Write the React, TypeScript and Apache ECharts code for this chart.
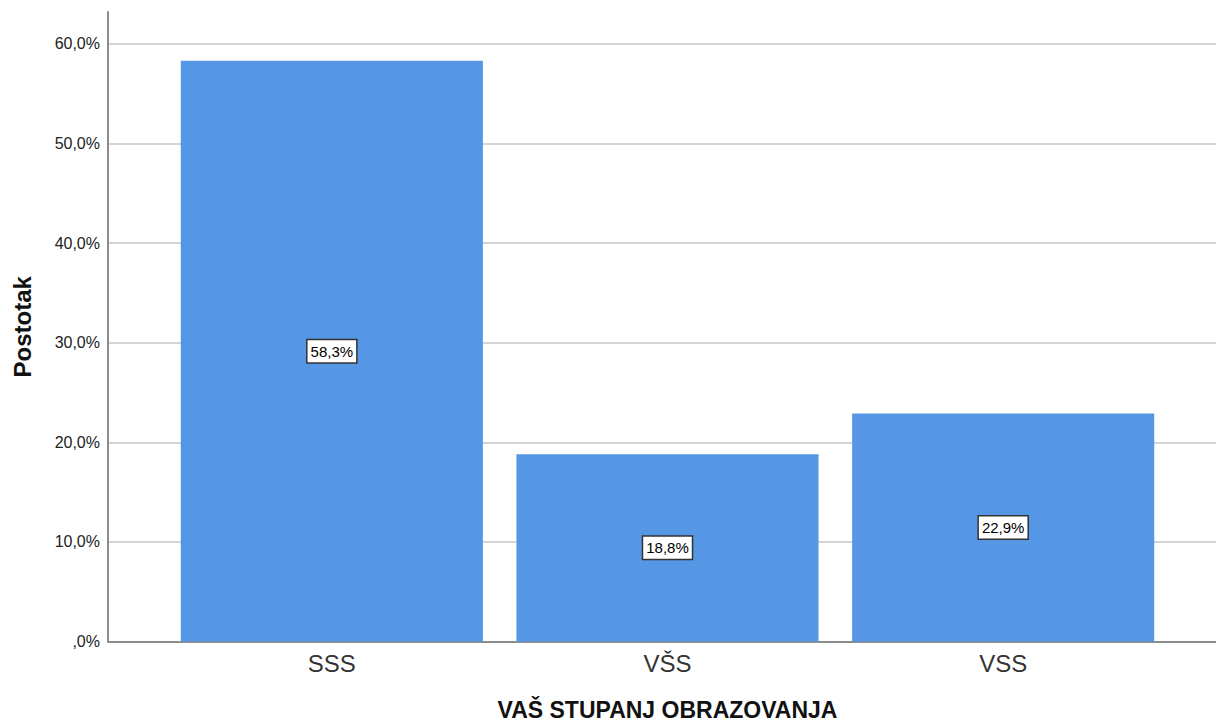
import React, { useEffect, useRef } from "react";
import * as echarts from "echarts";

const categories = ["SSS", "VŠS", "VSS"];
const percentages = [58.3, 18.8, 22.9];
const yTicks = [0, 10, 20, 30, 40, 50, 60];

const fmtPct = (v: number) => (v === 0 ? ",0%" : v.toFixed(1).replace(".", ",") + "%");

export default function App() {
  const ref = useRef<HTMLDivElement>(null);
  useEffect(() => {
    if (!ref.current) return;
    const chart = echarts.init(ref.current, null, { renderer: "svg" });
    const font = "Arial, 'Liberation Sans', sans-serif";
    chart.setOption({
      animation: false,
      backgroundColor: "#ffffff",
      textStyle: { fontFamily: font },
      grid: [
        { left: 108, right: 0, top: 12, bottom: 80.5, outerBoundsMode: "none", containLabel: false },
        { left: 164, right: 45, top: 12, bottom: 80.5, outerBoundsMode: "none", containLabel: false },
      ],
      xAxis: [
        {
          gridIndex: 0,
          type: "value",
          min: 0,
          max: 1,
          axisLine: { show: true, onZero: false, lineStyle: { color: "#8c8c8c", width: 2 } },
          axisTick: { show: false },
          axisLabel: { show: false },
          splitLine: { show: false },
        },
        {
          gridIndex: 1,
          type: "category",
          data: categories,
          axisLine: { show: false },
          axisTick: { show: false },
          axisLabel: { fontSize: 24, color: "#333", margin: 10, fontFamily: font },
          name: "VAŠ STUPANJ OBRAZOVANJA",
          nameLocation: "middle",
          nameGap: 58,
          nameTextStyle: { fontSize: 23, lineHeight: 21, fontWeight: "bold", color: "#111", fontFamily: font },
        },
      ],
      yAxis: [
        {
          gridIndex: 0,
          type: "value",
          min: 0,
          max: 63.2,
          interval: 10,
          axisLine: { show: true, lineStyle: { color: "#8c8c8c", width: 2 } },
          axisTick: { show: false },
          axisLabel: {
            showMaxLabel: false,
            fontSize: 16,
            color: "#222",
            margin: 8,
            fontFamily: font,
            formatter: (v: number) => (yTicks.includes(Math.round(v * 10) / 10) ? fmtPct(v) : ""),
          },
          splitLine: { show: true, showMaxLine: false, lineStyle: { color: "#d4d4d4", width: 2 } },
          name: "Postotak",
          nameLocation: "middle",
          nameGap: 74,
          nameTextStyle: { fontSize: 24, fontWeight: "bold", color: "#111", fontFamily: font },
        },
        {
          gridIndex: 1,
          type: "value",
          min: 0,
          max: 63.2,
          show: false,
          splitLine: { show: false },
        },
      ],
      series: [
        {
          type: "bar",
          xAxisIndex: 1,
          yAxisIndex: 1,
          data: percentages,
          barCategoryGap: "10%",
          itemStyle: { color: "#5596e5" },
          label: {
            show: true,
            position: "inside",
            formatter: (p: any) => fmtPct(p.value),
            color: "#000",
            fontSize: 15,
            fontFamily: font,
            backgroundColor: "#ffffff",
            borderColor: "#333",
            borderWidth: 1.5,
            padding: [4, 3, 3, 3],
          },
        },
      ],
    });
    return () => chart.dispose();
  }, []);
  return <div ref={ref} style={{ position: "fixed", left: 0, top: 0, width: 1216, height: 722 }} />;
}
